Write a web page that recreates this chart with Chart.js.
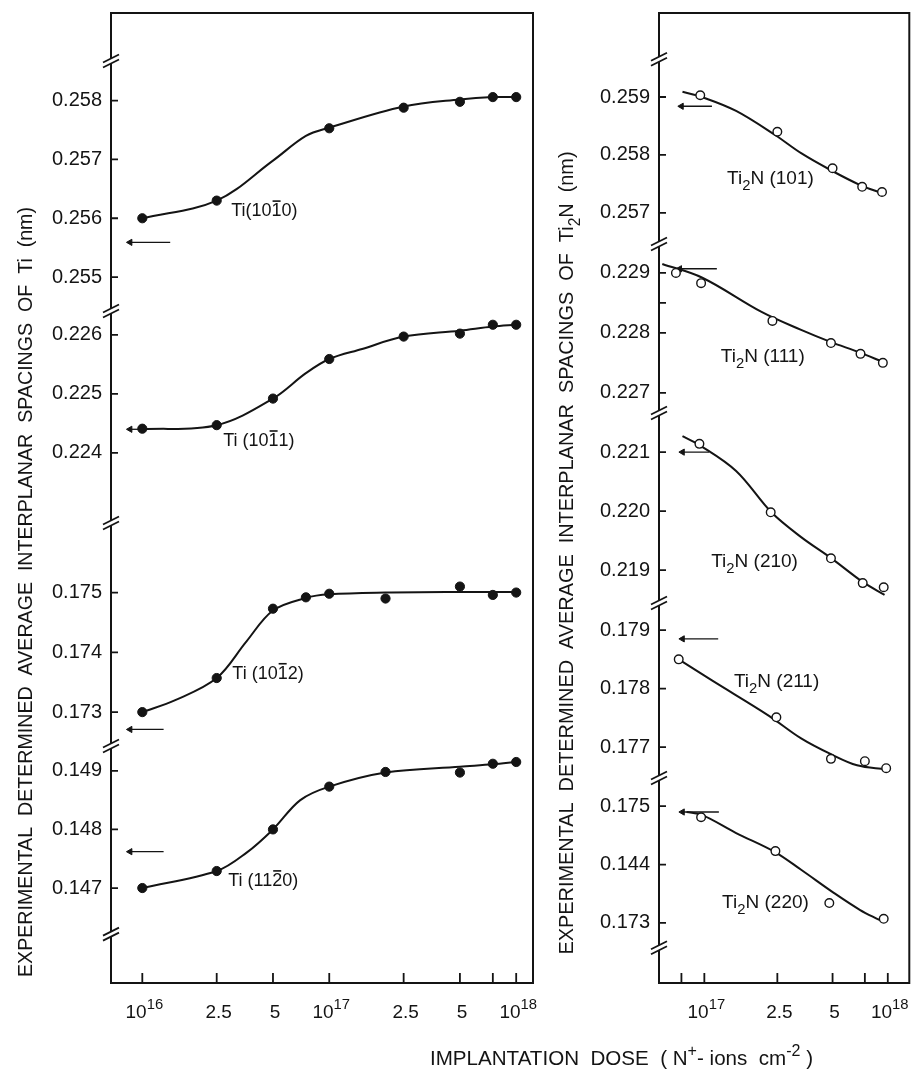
<!DOCTYPE html>
<html>
<head>
<meta charset="utf-8">
<title>Interplanar spacings of Ti and Ti2N vs implantation dose</title>
<script src="https://cdn.jsdelivr.net/npm/chart.js@4.4.1/dist/chart.umd.min.js"></script>
<style>
  html, body { margin: 0; padding: 0; background: #fff; }
  #wrap { position: relative; width: 915px; height: 1070px; overflow: hidden; }
  #ti { position: absolute; left: 0; top: 0; }
  #ti2n { position: absolute; left: 545px; top: 0; }
</style>
</head>
<body>
<div id="wrap">
  <canvas id="ti" width="915" height="1070"></canvas>
  <canvas id="ti2n" width="370" height="1070"></canvas>
</div>
<script>
const INK = '#141414'
const FONT = '"Liberation Sans", Arial, sans-serif'

// ---------- left panel : Ti ----------
const tiDoseTicks = [1e16, 2.5e16, 5e16, 1e17, 2.5e17, 5e17, 7.5e17, 1e18]
const tiDoseLabels = ['10^16', '2.5', '5', '10^17', '2.5', '5', '', '10^18']
const tiDoseRange = [6.8e15, 1.23e18]

const tiSegTicks = [
  [0.258, 0.257, 0.256, 0.255],
  [0.226, 0.225, 0.224],
  [0.175, 0.174, 0.173],
  [0.149, 0.148, 0.147]
]
const tiSegLabels = [
  ['0.258', '0.257', '0.256', '0.255'],
  ['0.226', '0.225', '0.224'],
  ['0.175', '0.174', '0.173'],
  ['0.149', '0.148', '0.147']
]
const tiSegRange = [[0.25444, 0.25949], [0.22283, 0.22642], [0.17245, 0.17618], [0.14538, 0.14944]]
const tiSegWeight = [297, 212, 223, 238]

// Ti (10-10)
const ti1010Dose = [1e16, 2.5e16, 1e17, 2.5e17, 5e17, 7.5e17, 1e18]
const ti1010D = [0.25600, 0.25630, 0.25753, 0.25788, 0.25798, 0.25806, 0.25806]
const ti1010FitDose = [1e16, 2.5e16, 5e16, 7.5e16, 1e17, 2.5e17, 5e17, 7.5e17, 1e18]
const ti1010Fit = [0.25600, 0.25630, 0.25698, 0.25740, 0.25754, 0.25790, 0.25802, 0.25806, 0.25806]
// Ti (10-11)
const ti1011Dose = [1e16, 2.5e16, 5e16, 1e17, 2.5e17, 5e17, 7.5e17, 1e18]
const ti1011D = [0.22441, 0.22447, 0.22492, 0.22559, 0.22597, 0.22602, 0.22617, 0.22617]
const ti1011FitDose = [1e16, 2.5e16, 5e16, 7.5e16, 1e17, 1.5e17, 2.5e17, 5e17, 7.5e17, 1e18]
const ti1011Fit = [0.22440, 0.22447, 0.22492, 0.22535, 0.22559, 0.22576, 0.22597, 0.22607, 0.22614, 0.22617]
// Ti (10-12)
const ti1012Dose = [1e16, 2.5e16, 5e16, 7.5e16, 1e17, 2e17, 5e17, 7.5e17, 1e18]
const ti1012D = [0.17300, 0.17357, 0.17473, 0.17492, 0.17498, 0.17490, 0.17510, 0.17496, 0.17500]
const ti1012FitDose = [1e16, 1.5e16, 2.5e16, 3.6e16, 5e16, 7.5e16, 1e17, 2e17, 5e17, 1e18]
const ti1012Fit = [0.17300, 0.17320, 0.17357, 0.17418, 0.17470, 0.17491, 0.17497, 0.17500, 0.17501, 0.17501]
// Ti (11-20)
const ti1120Dose = [1e16, 2.5e16, 5e16, 1e17, 2e17, 5e17, 7.5e17, 1e18]
const ti1120D = [0.14700, 0.14729, 0.14800, 0.14873, 0.14898, 0.14897, 0.14912, 0.14915]
const ti1120FitDose = [1e16, 2.5e16, 3.6e16, 5e16, 7e16, 1e17, 2e17, 5e17, 7.5e17, 1e18]
const ti1120Fit = [0.14700, 0.14729, 0.14760, 0.14800, 0.14850, 0.14873, 0.14897, 0.14907, 0.14911, 0.14915]

// reference (arrow) values for Ti, one per segment
const tiRefD = [0.25559, 0.22440, 0.17271, 0.14762]
const tiArrowSpan = [[8.6e15, 1.41e16], [8.6e15, 1e16], [8.6e15, 1.3e16], [8.6e15, 1.3e16]]

// ---------- right panel : Ti2N ----------
const ti2nDoseTicks = [7.5e16, 1e17, 2.5e17, 5e17, 7.5e17, 1e18]
const ti2nDoseLabels = ['', '10^17', '2.5', '5', '', '10^18']
const ti2nDoseRange = [5.66e16, 1.31e18]

const ti2nSegTicks = [
  [0.259, 0.258, 0.257],
  [0.229, 0.2285, 0.228, 0.227],
  [0.221, 0.220, 0.219],
  [0.179, 0.178, 0.177],
  [0.175, 0.174, 0.173]
]
const ti2nSegLabels = [
  ['0.259', '0.258', '0.257'],
  ['0.229', '', '0.228', '0.227'],
  ['0.221', '0.220', '0.219'],
  ['0.179', '0.178', '0.177'],
  ['0.175', '0.144', '0.173']
]
const ti2nSegRange = [[0.25648, 0.26045], [0.22668, 0.2295], [0.21846, 0.22168], [0.17649, 0.17948], [0.17197, 0.17550]]
const ti2nSegWeight = [230, 169, 190, 175, 206]

// Ti2N (101)
const t101Dose = [9.5e16, 2.5e17, 5e17, 7.25e17, 9.3e17]
const t101D = [0.25903, 0.25840, 0.25777, 0.25745, 0.25736]
const t101FitDose = [7.6e16, 9.7e16, 1.49e17, 2.44e17, 3.37e17, 4.87e17, 7.07e17, 9.3e17]
const t101Fit = [0.25909, 0.25900, 0.25876, 0.25834, 0.25803, 0.25774, 0.25748, 0.25734]
// Ti2N (111)
const t111Dose = [7.0e16, 9.6e16, 2.35e17, 4.9e17, 7.1e17, 9.4e17]
const t111D = [0.22900, 0.22883, 0.22820, 0.22783, 0.22765, 0.22750]
const t111FitDose = [5.9e16, 9.75e16, 2.05e17, 3.37e17, 4.87e17, 7.07e17, 9.3e17]
const t111Fit = [0.22915, 0.22892, 0.22835, 0.22805, 0.22785, 0.22767, 0.22752]
// Ti2N (210)
const t210Dose = [9.4e16, 2.3e17, 4.9e17, 7.3e17, 9.5e17]
const t210D = [0.22114, 0.21998, 0.21920, 0.21878, 0.21871]
const t210FitDose = [7.6e16, 9.4e16, 1.49e17, 2.32e17, 3.37e17, 4.93e17, 7.3e17, 9.6e17]
const t210Fit = [0.22127, 0.22112, 0.22068, 0.21998, 0.21956, 0.21920, 0.21880, 0.21858]
// Ti2N (211)
const t211Dose = [7.25e16, 2.47e17, 4.9e17, 7.5e17, 9.8e17]
const t211D = [0.17850, 0.17751, 0.17680, 0.17676, 0.17664]
const t211FitDose = [7.25e16, 1.1e17, 2.24e17, 3.37e17, 4.9e17, 6.8e17, 9.7e17]
const t211Fit = [0.17850, 0.17814, 0.17754, 0.17715, 0.17688, 0.17669, 0.17662]
// Ti2N (220)
const t220Dose = [9.6e16, 2.44e17, 4.8e17, 9.5e17]
const t220D = [0.17481, 0.17423, 0.17334, 0.17307]
const t220FitDose = [8e16, 9.7e16, 1.49e17, 2.44e17, 3.37e17, 5.1e17, 7.07e17, 9.0e17]
const t220Fit = [0.17490, 0.17485, 0.17454, 0.17421, 0.17391, 0.17351, 0.17322, 0.17305]

const ti2nRefD = [0.25884, 0.22907, 0.22100, 0.17885, 0.17490]
const ti2nArrowSpan = [[7.5e16, 1.1e17], [7.34e16, 1.17e17], [7.6e16, 1.06e17], [7.6e16, 1.19e17], [7.6e16, 1.2e17]]


const zip = (xs, ys) => xs.map((x, i) => ({x, y: ys[i]}))

function fitSet(xs, ys, axis) {
  return {data: zip(xs, ys), yAxisID: axis, showLine: true, borderColor: INK, borderWidth: 2,
    pointRadius: 0, tension: 0.35, order: 2}
}
function dotSet(xs, ys, axis, open) {
  return {data: zip(xs, ys), yAxisID: axis, showLine: false, pointRadius: open ? 4.3 : 4.6,
    pointBackgroundColor: open ? '#fff' : INK, pointBorderColor: INK, pointBorderWidth: open ? 1.4 : 1, order: 0}
}
function arrowSet(span, y, axis) {
  return {data: [{x: span[1], y}, {x: span[0], y}], yAxisID: axis, showLine: true, borderColor: INK,
    borderWidth: 1.3, pointRadius: [0, 3.6], pointStyle: 'triangle', pointRotation: -90,
    pointBackgroundColor: INK, pointBorderColor: INK, pointBorderWidth: 1, order: 1}
}

// text pieces: '^x' superscript, '_x' subscript, '~x' overbar
function pieceStyle(p, size) {
  const mod = '^_~'.includes(p[0]) ? p[0] : ''
  const txt = mod ? p.slice(1) : p
  const fs = (mod === '^' || mod === '_') ? size * 0.78 : size
  const dy = mod === '^' ? -size * 0.45 : mod === '_' ? size * 0.32 : 0
  return {mod, txt, fs, dy}
}
function measureParts(ctx, parts, size) {
  let w = 0
  for (const p of parts) {
    const s = pieceStyle(p, size)
    ctx.font = `${s.fs}px ${FONT}`
    w += ctx.measureText(s.txt).width
  }
  return w
}
function drawParts(ctx, parts, x, y, size) {
  let cx = x
  for (const p of parts) {
    const s = pieceStyle(p, size)
    ctx.font = `${s.fs}px ${FONT}`
    ctx.fillText(s.txt, cx, y + s.dy)
    const w = ctx.measureText(s.txt).width
    if (s.mod === '~') ctx.fillRect(cx + 1, y - size * 0.9, w - 2, 1.6)
    cx += w
  }
}

function breakMark(ctx, x, y) {
  ctx.save()
  ctx.fillStyle = '#fff'
  ctx.beginPath()
  ctx.moveTo(x - 8, y + 7.5); ctx.lineTo(x + 8, y - 0.5)
  ctx.lineTo(x + 8, y - 5.5); ctx.lineTo(x - 8, y + 2.5)
  ctx.closePath(); ctx.fill()
  ctx.lineWidth = 1.8
  ctx.beginPath()
  ctx.moveTo(x - 8, y + 7.5); ctx.lineTo(x + 8, y - 0.5)
  ctx.moveTo(x - 8, y + 2.5); ctx.lineTo(x + 8, y - 5.5)
  ctx.stroke()
  ctx.restore()
}

function decor(p) {
  return {
    id: 'decor',
    afterDraw(chart) {
      const {ctx, chartArea: a, scales} = chart
      const x = scales.x
      ctx.save()
      ctx.strokeStyle = INK
      ctx.fillStyle = INK
      ctx.lineWidth = 2
      ctx.strokeRect(a.left, a.top, a.right - a.left, a.bottom - a.top)

      // inward tick marks
      ctx.lineWidth = 1.8
      ctx.beginPath()
      p.yIds.forEach(id => scales[id].ticks.forEach(t => {
        const py = scales[id].getPixelForValue(t.value)
        ctx.moveTo(a.left, py); ctx.lineTo(a.left + 7, py)
      }))
      x.ticks.forEach(t => {
        const px = x.getPixelForValue(t.value)
        ctx.moveTo(px, a.bottom); ctx.lineTo(px, a.bottom - 10)
      })
      ctx.stroke()

      // axis breaks between the stacked segments, plus the end ones
      p.yIds.forEach(id => { if (scales[id].top > a.top + 2) breakMark(ctx, a.left, scales[id].top) })
      p.endBreaks.forEach(([id, v]) => breakMark(ctx, a.left, scales[id].getPixelForValue(v)))

      // dose labels with exponents
      ctx.textBaseline = 'alphabetic'
      ctx.textAlign = 'left'
      x.ticks.forEach((t, i) => {
        const lab = p.xLabels[i]
        if (!lab) return
        const parts = lab.includes('^') ? [lab.split('^')[0], '^' + lab.split('^')[1]] : [lab]
        const w = measureParts(ctx, parts, 19)
        drawParts(ctx, parts, x.getPixelForValue(t.value) - w / 2 + 2, a.bottom + 35, 19)
      })

      // curve names
      p.notes.forEach(n => {
        drawParts(ctx, n.parts, x.getPixelForValue(n.x), scales[n.axis].getPixelForValue(n.y) + n.size * 0.36, n.size)
      })

      // vertical axis title
      const t = p.title
      ctx.save()
      ctx.translate(t.cx, t.cy)
      ctx.rotate(-Math.PI / 2)
      const tw = measureParts(ctx, t.parts, t.size)
      ctx.scale(t.len / tw, 1)
      drawParts(ctx, t.parts, -tw / 2, t.size * 0.36, t.size)
      ctx.restore()

      // horizontal axis title (shared by both panels)
      if (p.xTitle) {
        const q = p.xTitle
        ctx.save()
        ctx.translate(q.left, q.base)
        const qw = measureParts(ctx, q.parts, q.size)
        ctx.scale(q.len / qw, 1)
        drawParts(ctx, q.parts, 0, 0, q.size)
        ctx.restore()
      }
      ctx.restore()
    }
  }
}

function noPad(s) {
  s.paddingTop = 0; s.paddingBottom = 0; s.paddingLeft = 0; s.paddingRight = 0
}

function buildChart(canvasId, p) {
  const scales = {
    x: {
      type: 'logarithmic', position: 'bottom', min: p.range[0], max: p.range[1],
      grid: {display: false, drawTicks: false}, border: {display: false}, ticks: {display: false},
      afterBuildTicks: s => { s.ticks = p.xTicks.map(v => ({value: v})) },
      afterFit: s => { s.height = p.xAxisH; noPad(s) }
    }
  }
  p.yIds.forEach((id, i) => {
    scales[id] = {
      type: 'linear', position: 'left', stack: 'seg', stackWeight: p.segWeight[i], weight: p.yIds.length - i,
      min: p.segRange[i][0], max: p.segRange[i][1],
      grid: {display: false, drawTicks: false}, border: {display: false},
      afterBuildTicks: s => { s.ticks = p.segTicks[i].map(v => ({value: v})) },
      afterFit: s => { s.width = p.yAxisW; noPad(s) },
      ticks: {autoSkip: false, padding: 9, color: INK, font: {family: FONT, size: 20},
        callback: (v, k) => p.segLabels[i][k]}
    }
  })
  return new Chart(document.getElementById(canvasId), {
    type: 'scatter',
    data: {datasets: p.datasets},
    options: {
      responsive: false, animation: false, events: [],
      layout: {padding: p.pad},
      plugins: {legend: {display: false}, tooltip: {enabled: false}},
      scales
    },
    plugins: [decor(p)]
  })
}

const tiIds = ['y0', 'y1', 'y2', 'y3']
const tiCurves = [
  [ti1010Dose, ti1010D, ti1010FitDose, ti1010Fit],
  [ti1011Dose, ti1011D, ti1011FitDose, ti1011Fit],
  [ti1012Dose, ti1012D, ti1012FitDose, ti1012Fit],
  [ti1120Dose, ti1120D, ti1120FitDose, ti1120Fit]
]
const tiSets = []
tiCurves.forEach((c, i) => {
  tiSets.push(dotSet(c[0], c[1], tiIds[i], false))
  tiSets.push(fitSet(c[2], c[3], tiIds[i]))
  tiSets.push(arrowSet(tiArrowSpan[i], tiRefD[i], tiIds[i]))
})

buildChart('ti', {
  yIds: tiIds, segTicks: tiSegTicks, segLabels: tiSegLabels, segRange: tiSegRange, segWeight: tiSegWeight,
  range: tiDoseRange, xTicks: tiDoseTicks, xLabels: tiDoseLabels,
  yAxisW: 111, xAxisH: 87, pad: {top: 13, right: 382, left: 0, bottom: 0},
  datasets: tiSets,
  endBreaks: [['y0', 0.25869], ['y3', 0.14623]],
  notes: [
    {axis: 'y0', x: 2.99e16, y: 0.25614, size: 18, parts: ['Ti(10', '~1', '0)']},
    {axis: 'y1', x: 2.71e16, y: 0.22422, size: 18, parts: ['Ti (10', '~1', '1)']},
    {axis: 'y2', x: 3.03e16, y: 0.17366, size: 18, parts: ['Ti (10', '~1', '2)']},
    {axis: 'y3', x: 2.88e16, y: 0.14714, size: 18, parts: ['Ti (11', '~2', '0)']}
  ],
  title: {cx: 25, cy: 592, len: 770, size: 20,
    parts: ['EXPERIMENTAL  DETERMINED  AVERAGE  INTERPLANAR  SPACINGS  OF  Ti  (nm)']},
  xTitle: {left: 430, base: 1065, len: 383, size: 20,
    parts: ['IMPLANTATION  DOSE  ( N', '^+', '- ions  cm', '^-2', ' )']}
})

const ti2nIds = ['y0', 'y1', 'y2', 'y3', 'y4']
const ti2nCurves = [
  [t101Dose, t101D, t101FitDose, t101Fit],
  [t111Dose, t111D, t111FitDose, t111Fit],
  [t210Dose, t210D, t210FitDose, t210Fit],
  [t211Dose, t211D, t211FitDose, t211Fit],
  [t220Dose, t220D, t220FitDose, t220Fit]
]
const ti2nSets = []
ti2nCurves.forEach((c, i) => {
  ti2nSets.push(dotSet(c[0], c[1], ti2nIds[i], true))
  ti2nSets.push(fitSet(c[2], c[3], ti2nIds[i]))
  ti2nSets.push(arrowSet(ti2nArrowSpan[i], ti2nRefD[i], ti2nIds[i]))
})

buildChart('ti2n', {
  yIds: ti2nIds, segTicks: ti2nSegTicks, segLabels: ti2nSegLabels, segRange: ti2nSegRange, segWeight: ti2nSegWeight,
  range: ti2nDoseRange, xTicks: ti2nDoseTicks, xLabels: ti2nDoseLabels,
  yAxisW: 114, xAxisH: 87, pad: {top: 13, right: 2, left: 0, bottom: 0},
  datasets: ti2nSets,
  endBreaks: [['y0', 0.25967], ['y4', 0.17259]],
  notes: [
    {axis: 'y0', x: 1.33e17, y: 0.25762, size: 19, parts: ['Ti', '_2', 'N (101)']},
    {axis: 'y1', x: 1.23e17, y: 0.22763, size: 19, parts: ['Ti', '_2', 'N (111)']},
    {axis: 'y2', x: 1.09e17, y: 0.21917, size: 19, parts: ['Ti', '_2', 'N (210)']},
    {axis: 'y3', x: 1.45e17, y: 0.17814, size: 19, parts: ['Ti', '_2', 'N (211)']},
    {axis: 'y4', x: 1.25e17, y: 0.17337, size: 19, parts: ['Ti', '_2', 'N (220)']}
  ],
  title: {cx: 21, cy: 553, len: 803, size: 20,
    parts: ['EXPERIMENTAL  DETERMINED  AVERAGE  INTERPLANAR  SPACINGS  OF  Ti', '_2', 'N  (nm)']}
})
</script>
</body>
</html>
